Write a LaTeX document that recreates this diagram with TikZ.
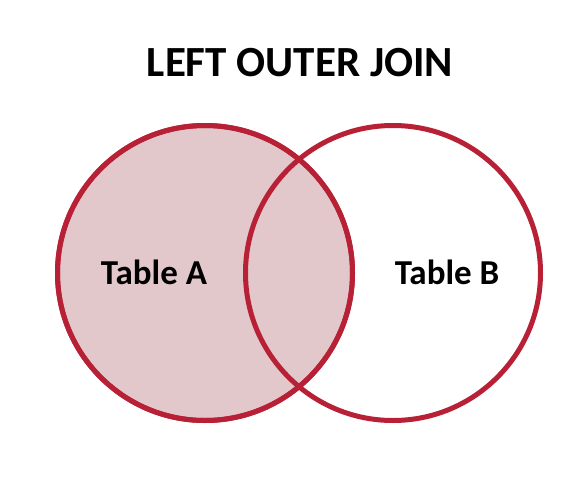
\documentclass[tikz,border=0pt]{standalone}
\usepackage{fontspec}
\setmainfont{Carlito}
\definecolor{ringred}{RGB}{184,32,54}
\definecolor{fillpink}{RGB}{226,200,203}
\begin{document}
\begin{tikzpicture}[x=1pt,y=-1pt,
  setcircle/.style={circle,draw=ringred,line width=5pt,minimum size=295pt,inner sep=0pt},
  label/.style={font=\bfseries\fontsize{35}{40}\selectfont,inner sep=0pt}]
\useasboundingbox (0,0) rectangle (584,482);
\node[setcircle,fill=fillpink] (A) at (205,273) {};
\node[setcircle] (B) at (393,273) {};
\node[setcircle] (A2) at (205,273) {};
\node[font=\bfseries\fontsize{43}{48}\selectfont,inner sep=0pt] (title) at (300,63) {LEFT OUTER JOIN};
\node[label] (ta) at (154,272) {Table A};
\node[label] (tb) at (447,272) {Table B};
\end{tikzpicture}
\end{document}
